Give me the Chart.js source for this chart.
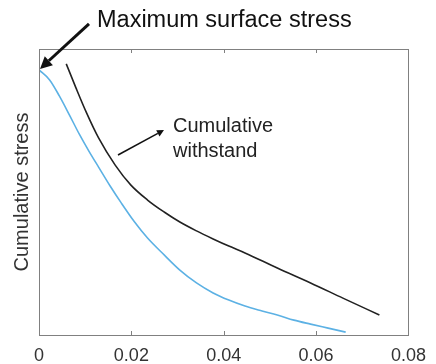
<!DOCTYPE html>
<html>
<head>
<meta charset="utf-8">
<script src="https://cdn.jsdelivr.net/npm/chart.js@4/dist/chart.umd.min.js"></script>
<style>
  body { margin: 0; background: #fff; }
  canvas { display: block; }
</style>
</head>
<body>
<canvas id="stressChart" width="436" height="364"></canvas>
<script>
// depth values (x) and relative stress (y)
var stressX = [0, 0.0023, 0.0044, 0.0066, 0.0087, 0.0108, 0.0129, 0.0154, 0.0178, 0.0207, 0.0235, 0.0271, 0.0305, 0.0341, 0.0377, 0.0411, 0.0446, 0.0483, 0.0516, 0.0552, 0.0588, 0.0626, 0.0664];
var stressY = [0.927, 0.892, 0.836, 0.769, 0.703, 0.643, 0.587, 0.521, 0.462, 0.395, 0.339, 0.280, 0.227, 0.182, 0.147, 0.122, 0.101, 0.084, 0.070, 0.052, 0.038, 0.024, 0.010];

var withstandX = [0.0059, 0.0080, 0.0102, 0.0129, 0.0165, 0.0199, 0.0235, 0.0271, 0.0305, 0.0341, 0.0377, 0.0411, 0.0446, 0.0516, 0.0588, 0.0658, 0.0737];
var withstandY = [0.948, 0.864, 0.780, 0.689, 0.594, 0.524, 0.472, 0.430, 0.395, 0.364, 0.336, 0.311, 0.287, 0.234, 0.182, 0.129, 0.070];

var xTicks = [0, 0.02, 0.04, 0.06, 0.08];

function toPoints(xs, ys) {
  return xs.map(function (x, i) { return { x: x, y: ys[i] }; });
}

function arrow(ctx, x1, y1, x2, y2, width, headLen, headW) {
  var ang = Math.atan2(y2 - y1, x2 - x1);
  var bx = x2 - headLen * Math.cos(ang), by = y2 - headLen * Math.sin(ang);
  ctx.save();
  ctx.strokeStyle = '#111';
  ctx.fillStyle = '#111';
  ctx.lineWidth = width;
  ctx.beginPath();
  ctx.moveTo(x1, y1);
  ctx.lineTo(bx, by);
  ctx.stroke();
  ctx.beginPath();
  ctx.moveTo(x2, y2);
  ctx.lineTo(bx + headW * Math.sin(ang), by - headW * Math.cos(ang));
  ctx.lineTo(bx - headW * Math.sin(ang), by + headW * Math.cos(ang));
  ctx.closePath();
  ctx.fill();
  ctx.restore();
}

// box, inner ticks and the two annotations
var framePlugin = {
  id: 'frame',
  afterDraw: function (chart) {
    var ctx = chart.ctx, a = chart.chartArea, xs = chart.scales.x, ys = chart.scales.y;
    ctx.save();
    ctx.strokeStyle = '#808080';
    ctx.lineWidth = 1;
    ctx.strokeRect(Math.round(a.left) + 0.5, Math.round(a.top) + 0.5, Math.round(a.right - a.left), Math.round(a.bottom - a.top));
    ctx.beginPath();
    xTicks.slice(1, -1).forEach(function (v) {
      var px = Math.round(xs.getPixelForValue(v)) + 0.5;
      ctx.moveTo(px, a.bottom); ctx.lineTo(px, a.bottom - 4);
      ctx.moveTo(px, a.top); ctx.lineTo(px, a.top + 4);
    });
    ctx.stroke();
    ctx.restore();

    // maximum surface stress
    var hx = xs.getPixelForValue(stressX[0]) + 1, hy = ys.getPixelForValue(stressY[0]) - 1;
    arrow(ctx, hx + 49, hy - 45, hx, hy, 3, 12, 6);
    ctx.save();
    ctx.fillStyle = '#111';
    ctx.font = '23.5px "Liberation Sans", Arial, sans-serif';
    ctx.textBaseline = 'middle';
    ctx.fillText('Maximum surface stress', 97, 21);

    ctx.font = '20px "Liberation Sans", Arial, sans-serif';
    ctx.fillStyle = '#222';
    ctx.fillText('Cumulative', 173, 126);
    ctx.fillText('withstand', 173, 151);
    ctx.restore();
    arrow(ctx, 118, 155, 164, 130, 1.5, 7, 3.5);
  }
};

new Chart(document.getElementById('stressChart'), {
  type: 'line',
  data: {
    datasets: [{
      label: 'Cumulative stress',
      data: toPoints(stressX, stressY),
      borderColor: '#5cb1e4',
      borderWidth: 1.6,
      pointRadius: 0,
      cubicInterpolationMode: 'monotone',
      fill: false
    }, {
      label: 'Cumulative withstand',
      data: toPoints(withstandX, withstandY),
      borderColor: '#222',
      borderWidth: 1.6,
      pointRadius: 0,
      cubicInterpolationMode: 'monotone',
      fill: false
    }]
  },
  options: {
    responsive: false,
    animation: false,
    layout: { padding: { top: 49, right: 19, left: 0, bottom: 0 } },
    plugins: { legend: { display: false }, tooltip: { enabled: false } },
    scales: {
      x: {
        type: 'linear',
        min: 0,
        max: 0.08,
        grid: { display: false, drawTicks: false },
        border: { display: false },
        afterFit: function (s) { s.height = 29; },
        afterBuildTicks: function (s) { s.ticks = xTicks.map(function (v) { return { value: v }; }); },
        ticks: {
          padding: 10,
          maxRotation: 0,
          color: '#333',
          font: { family: '"Liberation Sans", Arial, sans-serif', size: 18 },
          callback: function (v) { return String(v); }
        }
      },
      y: {
        min: 0,
        max: 1,
        grid: { display: false, drawTicks: false },
        border: { display: false },
        ticks: { display: false },
        afterFit: function (s) { s.width = 39; },
        title: {
          display: true,
          text: 'Cumulative stress',
          color: '#333',
          padding: { top: 10, bottom: 0 },
          font: { family: '"Liberation Sans", Arial, sans-serif', size: 20 }
        }
      }
    }
  },
  plugins: [framePlugin]
});
</script>
</body>
</html>
